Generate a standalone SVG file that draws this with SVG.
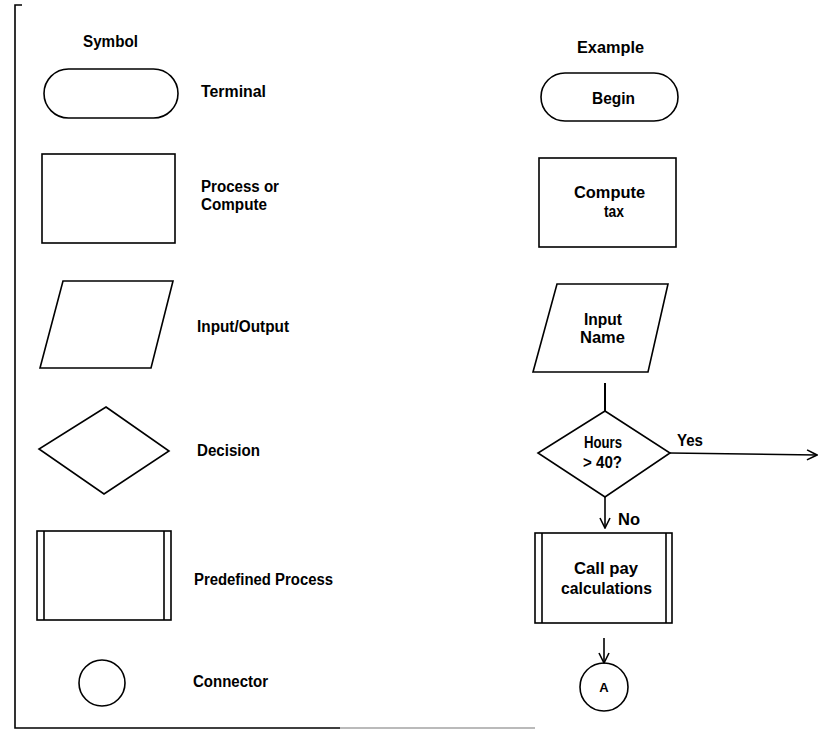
<svg xmlns="http://www.w3.org/2000/svg" width="838" height="736" viewBox="0 0 838 736">
<defs>
<style>
.s{fill:none;stroke:#000;stroke-width:1.6}
.t{font-family:"Liberation Sans",Arial,sans-serif;font-weight:bold;font-size:16px;fill:#000}
.c{text-anchor:middle}
.ln{fill:none;stroke:#000;stroke-width:1.6}
</style>
<marker id="ah" viewBox="0 0 12 12" refX="11" refY="6" markerWidth="12" markerHeight="12" markerUnits="userSpaceOnUse" orient="auto">
<path d="M1,1 L11,6 L1,11" fill="none" stroke="#000" stroke-width="1.6"/>
</marker>
</defs>
<rect width="838" height="736" fill="#fff"/>
<g id="frame">
<path class="ln" d="M22,5 H15 V728 H340"/>
<path d="M340,728 H535" fill="none" stroke="#777" stroke-width="1.2"/>
</g>
<g id="headers">
<text class="t" x="83" y="47" textLength="55" lengthAdjust="spacingAndGlyphs">Symbol</text>
<text class="t" x="577" y="53" textLength="67" lengthAdjust="spacingAndGlyphs">Example</text>
</g>
<g id="sym-terminal">
<rect class="s" x="44" y="69" width="134" height="49" rx="24.5"/>
<text class="t" x="201" y="97" textLength="65" lengthAdjust="spacingAndGlyphs">Terminal</text>
</g>
<g id="sym-process">
<rect class="s" x="42" y="154" width="133" height="89"/>
<text class="t" x="201" y="192" textLength="78" lengthAdjust="spacingAndGlyphs">Process or</text>
<text class="t" x="201" y="210" textLength="66" lengthAdjust="spacingAndGlyphs">Compute</text>
</g>
<g id="sym-io">
<polygon class="s" points="63,281 173,281 151,368 40,368"/>
<text class="t" x="197" y="332" textLength="92" lengthAdjust="spacingAndGlyphs">Input/Output</text>
</g>
<g id="sym-decision">
<polygon class="s" points="106,407 169,451 104,494 39,449"/>
<text class="t" x="197" y="456" textLength="63" lengthAdjust="spacingAndGlyphs">Decision</text>
</g>
<g id="sym-predefined">
<rect class="s" x="37" y="531" width="134" height="89"/>
<line class="s" x1="44" y1="531" x2="44" y2="620"/>
<line class="s" x1="164" y1="531" x2="164" y2="620"/>
<text class="t" x="194" y="585" textLength="139" lengthAdjust="spacingAndGlyphs">Predefined Process</text>
</g>
<g id="sym-connector">
<circle class="s" cx="102" cy="683" r="23"/>
<text class="t" x="193" y="687" textLength="75" lengthAdjust="spacingAndGlyphs">Connector</text>
</g>
<g id="ex-begin">
<rect class="s" x="541" y="73" width="137" height="48" rx="24"/>
<text class="t" x="592" y="104" textLength="43" lengthAdjust="spacingAndGlyphs">Begin</text>
</g>
<g id="ex-compute">
<rect class="s" x="539" y="158" width="137" height="89"/>
<text class="t" x="574" y="198" textLength="71" lengthAdjust="spacingAndGlyphs">Compute</text>
<text class="t" x="604" y="217" textLength="20" lengthAdjust="spacingAndGlyphs">tax</text>
</g>
<g id="ex-input">
<polygon class="s" points="557,284 668,284 648,372 533,372"/>
<text class="t" x="584" y="325" textLength="38" lengthAdjust="spacingAndGlyphs">Input</text>
<text class="t" x="580" y="343" textLength="45" lengthAdjust="spacingAndGlyphs">Name</text>
</g>
<g id="ex-decision">
<polygon class="s" points="605,411 670,453 605,497 538,453"/>
<text class="t" x="584" y="448" textLength="38" lengthAdjust="spacingAndGlyphs">Hours</text>
<text class="t" x="583" y="468" textLength="39" lengthAdjust="spacingAndGlyphs">&gt; 40?</text>
</g>
<g id="ex-predefined">
<rect class="s" x="535" y="533" width="137" height="90"/>
<line class="s" x1="542" y1="533" x2="542" y2="623"/>
<line class="s" x1="666" y1="533" x2="666" y2="623"/>
<text class="t" x="574" y="574" textLength="64" lengthAdjust="spacingAndGlyphs">Call pay</text>
<text class="t" x="561" y="594" textLength="91" lengthAdjust="spacingAndGlyphs">calculations</text>
</g>
<g id="ex-connector">
<circle class="s" cx="604" cy="687" r="24"/>
<text class="t c" x="604" y="692" style="font-size:13px">A</text>
</g>
<g id="connectors">
<line class="ln" x1="605" y1="383" x2="605" y2="411" style="stroke-width:2"/>
<line class="ln" x1="670" y1="453" x2="817" y2="455" marker-end="url(#ah)"/>
<line class="ln" x1="605" y1="497" x2="605" y2="528" marker-end="url(#ah)"/>
<line class="ln" x1="604" y1="638" x2="604" y2="663" marker-end="url(#ah)"/>
<text class="t" x="677" y="446" textLength="26" lengthAdjust="spacingAndGlyphs">Yes</text>
<text class="t" x="618" y="525" textLength="22" lengthAdjust="spacingAndGlyphs">No</text>
</g>
</svg>
